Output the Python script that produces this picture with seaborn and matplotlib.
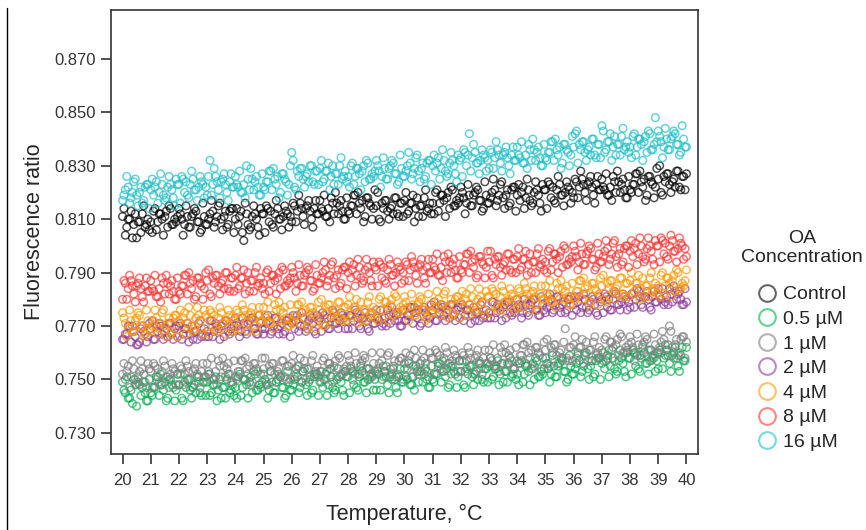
import numpy as np
import pandas as pd
import seaborn as sns
import matplotlib.pyplot as plt
from matplotlib.lines import Line2D
from matplotlib.colors import to_rgba

# Temperature grids: readings every 0.1 °C, second run offset by 0.05 °C
temps = np.round(np.arange(20.0, 40.05, 0.1), 1)
temps_b = np.round(np.arange(20.05, 40.0, 0.1), 2)

# Fluorescence ratios, one row per degree
control = [
    0.811, 0.804, 0.810, 0.813, 0.808, 0.803, 0.809, 0.812, 0.807, 0.810,
    0.809, 0.813, 0.806, 0.812, 0.810, 0.811, 0.807, 0.814, 0.808, 0.809,
    0.814, 0.810, 0.808, 0.811, 0.807, 0.812, 0.813, 0.809, 0.806, 0.811,
    0.808, 0.812, 0.813, 0.809, 0.815, 0.810, 0.811, 0.807, 0.813, 0.814,
    0.810, 0.808, 0.813, 0.802, 0.812, 0.806, 0.811, 0.812, 0.807, 0.814,
    0.812, 0.815, 0.809, 0.808, 0.812, 0.814, 0.810, 0.811, 0.813, 0.807,
    0.809, 0.815, 0.813, 0.816, 0.811, 0.814, 0.817, 0.810, 0.814, 0.812,
    0.817, 0.813, 0.811, 0.814, 0.818, 0.812, 0.816, 0.815, 0.813, 0.810,
    0.813, 0.815, 0.819, 0.812, 0.816, 0.817, 0.811, 0.818, 0.815, 0.814,
    0.815, 0.810, 0.816, 0.817, 0.813, 0.814, 0.812, 0.818, 0.811, 0.816,
    0.817, 0.812, 0.816, 0.819, 0.814, 0.811, 0.815, 0.818, 0.813, 0.816,
    0.816, 0.820, 0.813, 0.819, 0.817, 0.818, 0.814, 0.821, 0.815, 0.816,
    0.822, 0.818, 0.816, 0.819, 0.815, 0.820, 0.821, 0.817, 0.814, 0.819,
    0.816, 0.820, 0.821, 0.817, 0.823, 0.818, 0.819, 0.815, 0.821, 0.822,
    0.819, 0.817, 0.822, 0.818, 0.821, 0.815, 0.820, 0.821, 0.816, 0.823,
    0.821, 0.824, 0.818, 0.817, 0.821, 0.823, 0.819, 0.820, 0.822, 0.816,
    0.818, 0.824, 0.822, 0.825, 0.820, 0.823, 0.826, 0.819, 0.823, 0.821,
    0.825, 0.821, 0.819, 0.822, 0.826, 0.820, 0.824, 0.823, 0.821, 0.818,
    0.821, 0.823, 0.827, 0.820, 0.824, 0.825, 0.819, 0.826, 0.823, 0.822,
    0.825, 0.820, 0.826, 0.827, 0.823, 0.824, 0.822, 0.828, 0.821, 0.826,
    0.827,
]
control_b = [
    0.814, 0.807, 0.810, 0.803, 0.812, 0.809, 0.805, 0.815, 0.808, 0.806,
    0.805, 0.814, 0.809, 0.812, 0.804, 0.813, 0.815, 0.808, 0.810, 0.811,
    0.812, 0.804, 0.815, 0.807, 0.811, 0.814, 0.809, 0.805, 0.816, 0.808,
    0.810, 0.817, 0.807, 0.811, 0.816, 0.806, 0.813, 0.808, 0.814, 0.805,
    0.814, 0.811, 0.805, 0.816, 0.808, 0.807, 0.815, 0.810, 0.804, 0.812,
    0.805, 0.814, 0.813, 0.807, 0.817, 0.810, 0.806, 0.815, 0.812, 0.811,
    0.816, 0.809, 0.819, 0.814, 0.808, 0.815, 0.813, 0.807, 0.817, 0.812,
    0.814, 0.819, 0.811, 0.809, 0.816, 0.820, 0.812, 0.817, 0.810, 0.818,
    0.812, 0.815, 0.819, 0.820, 0.814, 0.809, 0.818, 0.816, 0.810, 0.821,
    0.820, 0.809, 0.814, 0.817, 0.810, 0.815, 0.818, 0.812, 0.816, 0.811,
    0.820, 0.813, 0.816, 0.809, 0.818, 0.815, 0.811, 0.821, 0.814, 0.812,
    0.812, 0.821, 0.816, 0.819, 0.811, 0.820, 0.822, 0.815, 0.817, 0.818,
    0.820, 0.812, 0.823, 0.815, 0.819, 0.822, 0.817, 0.813, 0.824, 0.816,
    0.818, 0.825, 0.815, 0.819, 0.824, 0.814, 0.821, 0.816, 0.822, 0.813,
    0.823, 0.820, 0.814, 0.825, 0.817, 0.816, 0.824, 0.819, 0.813, 0.821,
    0.814, 0.823, 0.822, 0.816, 0.826, 0.819, 0.815, 0.824, 0.821, 0.820,
    0.825, 0.818, 0.828, 0.823, 0.817, 0.824, 0.822, 0.816, 0.826, 0.821,
    0.822, 0.827, 0.819, 0.817, 0.824, 0.828, 0.820, 0.825, 0.818, 0.826,
    0.820, 0.823, 0.827, 0.828, 0.822, 0.817, 0.826, 0.824, 0.818, 0.829,
    0.830, 0.819, 0.824, 0.827, 0.820, 0.825, 0.828, 0.822, 0.826, 0.821,
]
c_0_5 = [
    0.749, 0.745, 0.743, 0.746, 0.750, 0.740, 0.748, 0.747, 0.745, 0.742,
    0.745, 0.747, 0.751, 0.744, 0.748, 0.749, 0.743, 0.750, 0.747, 0.746,
    0.748, 0.743, 0.749, 0.750, 0.746, 0.747, 0.745, 0.751, 0.744, 0.749,
    0.749, 0.744, 0.748, 0.751, 0.746, 0.743, 0.747, 0.750, 0.745, 0.748,
    0.747, 0.751, 0.744, 0.750, 0.748, 0.749, 0.745, 0.752, 0.746, 0.747,
    0.752, 0.748, 0.746, 0.749, 0.745, 0.750, 0.751, 0.747, 0.744, 0.749,
    0.746, 0.750, 0.751, 0.747, 0.753, 0.748, 0.749, 0.745, 0.751, 0.752,
    0.749, 0.747, 0.752, 0.748, 0.751, 0.745, 0.750, 0.751, 0.746, 0.753,
    0.751, 0.754, 0.748, 0.747, 0.751, 0.753, 0.749, 0.750, 0.752, 0.746,
    0.746, 0.752, 0.750, 0.753, 0.748, 0.751, 0.754, 0.747, 0.751, 0.749,
    0.754, 0.750, 0.748, 0.751, 0.755, 0.749, 0.753, 0.752, 0.750, 0.747,
    0.750, 0.752, 0.756, 0.749, 0.753, 0.754, 0.748, 0.755, 0.752, 0.751,
    0.753, 0.748, 0.754, 0.755, 0.751, 0.752, 0.750, 0.756, 0.749, 0.754,
    0.755, 0.750, 0.754, 0.757, 0.752, 0.749, 0.753, 0.756, 0.751, 0.754,
    0.752, 0.756, 0.749, 0.755, 0.753, 0.754, 0.750, 0.757, 0.751, 0.752,
    0.758, 0.754, 0.752, 0.755, 0.751, 0.756, 0.757, 0.753, 0.750, 0.755,
    0.752, 0.756, 0.757, 0.753, 0.759, 0.754, 0.755, 0.751, 0.757, 0.758,
    0.756, 0.754, 0.759, 0.755, 0.758, 0.752, 0.757, 0.758, 0.753, 0.760,
    0.758, 0.761, 0.755, 0.754, 0.758, 0.760, 0.756, 0.757, 0.759, 0.753,
    0.754, 0.760, 0.758, 0.761, 0.756, 0.759, 0.762, 0.755, 0.759, 0.757,
    0.762,
]
c_0_5_b = [
    0.746, 0.751, 0.743, 0.741, 0.748, 0.751, 0.744, 0.749, 0.742, 0.750,
    0.744, 0.747, 0.751, 0.752, 0.746, 0.742, 0.750, 0.748, 0.742, 0.752,
    0.752, 0.742, 0.747, 0.750, 0.743, 0.748, 0.751, 0.745, 0.749, 0.744,
    0.752, 0.745, 0.748, 0.742, 0.750, 0.747, 0.743, 0.752, 0.746, 0.744,
    0.743, 0.752, 0.747, 0.750, 0.743, 0.751, 0.753, 0.746, 0.748, 0.749,
    0.750, 0.743, 0.753, 0.745, 0.749, 0.752, 0.747, 0.743, 0.753, 0.746,
    0.748, 0.754, 0.745, 0.749, 0.754, 0.744, 0.751, 0.746, 0.752, 0.744,
    0.753, 0.750, 0.744, 0.754, 0.747, 0.746, 0.754, 0.749, 0.744, 0.751,
    0.745, 0.753, 0.752, 0.746, 0.755, 0.749, 0.745, 0.754, 0.751, 0.750,
    0.753, 0.746, 0.755, 0.751, 0.745, 0.752, 0.750, 0.745, 0.754, 0.749,
    0.751, 0.756, 0.748, 0.746, 0.753, 0.756, 0.749, 0.754, 0.747, 0.755,
    0.749, 0.752, 0.756, 0.757, 0.751, 0.747, 0.755, 0.753, 0.747, 0.757,
    0.757, 0.747, 0.752, 0.755, 0.748, 0.753, 0.756, 0.750, 0.754, 0.749,
    0.758, 0.751, 0.754, 0.748, 0.756, 0.753, 0.749, 0.758, 0.752, 0.750,
    0.748, 0.757, 0.752, 0.755, 0.748, 0.756, 0.758, 0.751, 0.753, 0.754,
    0.756, 0.749, 0.759, 0.751, 0.755, 0.758, 0.753, 0.749, 0.759, 0.752,
    0.754, 0.760, 0.751, 0.755, 0.760, 0.750, 0.757, 0.752, 0.758, 0.750,
    0.760, 0.757, 0.751, 0.761, 0.754, 0.753, 0.761, 0.756, 0.751, 0.758,
    0.752, 0.760, 0.759, 0.753, 0.762, 0.756, 0.752, 0.761, 0.758, 0.757,
    0.761, 0.754, 0.763, 0.759, 0.753, 0.760, 0.758, 0.753, 0.762, 0.757,
]
c_1 = [
    0.752, 0.750, 0.755, 0.751, 0.754, 0.748, 0.753, 0.754, 0.749, 0.756,
    0.753, 0.756, 0.750, 0.749, 0.753, 0.755, 0.751, 0.752, 0.754, 0.748,
    0.748, 0.754, 0.752, 0.755, 0.750, 0.753, 0.756, 0.749, 0.753, 0.751,
    0.756, 0.752, 0.750, 0.753, 0.757, 0.751, 0.755, 0.754, 0.752, 0.749,
    0.751, 0.753, 0.757, 0.750, 0.754, 0.755, 0.749, 0.756, 0.753, 0.752,
    0.754, 0.749, 0.755, 0.756, 0.752, 0.753, 0.751, 0.757, 0.750, 0.755,
    0.756, 0.751, 0.755, 0.758, 0.753, 0.750, 0.754, 0.757, 0.752, 0.755,
    0.753, 0.757, 0.750, 0.756, 0.754, 0.755, 0.751, 0.758, 0.752, 0.753,
    0.759, 0.755, 0.753, 0.756, 0.752, 0.757, 0.758, 0.754, 0.751, 0.756,
    0.752, 0.756, 0.757, 0.753, 0.759, 0.754, 0.755, 0.751, 0.757, 0.758,
    0.756, 0.754, 0.759, 0.755, 0.758, 0.752, 0.757, 0.758, 0.753, 0.760,
    0.758, 0.761, 0.755, 0.754, 0.758, 0.760, 0.756, 0.757, 0.759, 0.753,
    0.753, 0.759, 0.757, 0.760, 0.755, 0.758, 0.761, 0.754, 0.758, 0.756,
    0.761, 0.757, 0.755, 0.758, 0.762, 0.756, 0.760, 0.759, 0.757, 0.754,
    0.757, 0.759, 0.763, 0.756, 0.760, 0.761, 0.755, 0.762, 0.759, 0.758,
    0.761, 0.756, 0.762, 0.763, 0.759, 0.760, 0.758, 0.769, 0.757, 0.762,
    0.763, 0.758, 0.762, 0.765, 0.760, 0.757, 0.761, 0.764, 0.759, 0.762,
    0.761, 0.765, 0.758, 0.764, 0.762, 0.763, 0.759, 0.766, 0.760, 0.761,
    0.766, 0.762, 0.760, 0.763, 0.759, 0.764, 0.765, 0.761, 0.758, 0.763,
    0.760, 0.764, 0.765, 0.761, 0.770, 0.762, 0.763, 0.759, 0.765, 0.766,
    0.764,
]
c_1_b = [
    0.756, 0.753, 0.747, 0.757, 0.750, 0.749, 0.757, 0.752, 0.747, 0.754,
    0.747, 0.755, 0.754, 0.748, 0.757, 0.751, 0.747, 0.756, 0.753, 0.752,
    0.755, 0.748, 0.757, 0.753, 0.747, 0.754, 0.752, 0.747, 0.756, 0.751,
    0.753, 0.758, 0.750, 0.748, 0.755, 0.758, 0.751, 0.756, 0.749, 0.757,
    0.750, 0.753, 0.757, 0.758, 0.752, 0.748, 0.756, 0.754, 0.748, 0.758,
    0.758, 0.748, 0.753, 0.756, 0.749, 0.754, 0.757, 0.751, 0.755, 0.750,
    0.759, 0.752, 0.755, 0.749, 0.757, 0.754, 0.750, 0.759, 0.753, 0.751,
    0.749, 0.758, 0.753, 0.756, 0.749, 0.757, 0.759, 0.752, 0.754, 0.755,
    0.757, 0.750, 0.760, 0.752, 0.756, 0.759, 0.754, 0.750, 0.760, 0.753,
    0.754, 0.760, 0.751, 0.755, 0.760, 0.750, 0.757, 0.752, 0.758, 0.750,
    0.760, 0.757, 0.751, 0.761, 0.754, 0.753, 0.761, 0.756, 0.751, 0.758,
    0.752, 0.760, 0.759, 0.753, 0.762, 0.756, 0.752, 0.761, 0.758, 0.757,
    0.760, 0.753, 0.762, 0.758, 0.752, 0.759, 0.757, 0.752, 0.761, 0.756,
    0.758, 0.763, 0.755, 0.753, 0.760, 0.763, 0.756, 0.761, 0.754, 0.762,
    0.756, 0.759, 0.763, 0.764, 0.758, 0.754, 0.762, 0.760, 0.754, 0.764,
    0.765, 0.755, 0.760, 0.763, 0.756, 0.761, 0.764, 0.758, 0.762, 0.757,
    0.766, 0.759, 0.762, 0.756, 0.764, 0.761, 0.757, 0.766, 0.760, 0.758,
    0.757, 0.766, 0.761, 0.764, 0.757, 0.765, 0.767, 0.760, 0.762, 0.763,
    0.764, 0.757, 0.767, 0.759, 0.763, 0.766, 0.761, 0.757, 0.767, 0.760,
    0.762, 0.768, 0.759, 0.763, 0.768, 0.758, 0.765, 0.760, 0.766, 0.758,
]
c_2 = [
    0.765, 0.767, 0.770, 0.764, 0.768, 0.763, 0.764, 0.770, 0.767, 0.766,
    0.769, 0.765, 0.770, 0.771, 0.767, 0.768, 0.766, 0.771, 0.765, 0.770,
    0.770, 0.765, 0.769, 0.771, 0.767, 0.765, 0.768, 0.771, 0.766, 0.769,
    0.768, 0.772, 0.766, 0.771, 0.769, 0.770, 0.766, 0.772, 0.767, 0.768,
    0.773, 0.770, 0.768, 0.771, 0.767, 0.772, 0.773, 0.769, 0.767, 0.771,
    0.767, 0.771, 0.772, 0.768, 0.773, 0.769, 0.770, 0.767, 0.772, 0.773,
    0.771, 0.769, 0.774, 0.770, 0.773, 0.768, 0.772, 0.773, 0.768, 0.774,
    0.773, 0.775, 0.770, 0.769, 0.773, 0.775, 0.771, 0.772, 0.774, 0.769,
    0.769, 0.774, 0.772, 0.775, 0.770, 0.773, 0.775, 0.769, 0.773, 0.771,
    0.776, 0.772, 0.770, 0.773, 0.776, 0.771, 0.775, 0.774, 0.772, 0.770,
    0.772, 0.774, 0.777, 0.771, 0.775, 0.776, 0.771, 0.777, 0.774, 0.773,
    0.776, 0.772, 0.777, 0.778, 0.774, 0.775, 0.773, 0.778, 0.772, 0.777,
    0.777, 0.772, 0.776, 0.778, 0.774, 0.772, 0.775, 0.778, 0.773, 0.776,
    0.775, 0.779, 0.773, 0.778, 0.776, 0.777, 0.773, 0.779, 0.774, 0.775,
    0.780, 0.777, 0.775, 0.778, 0.774, 0.779, 0.780, 0.776, 0.774, 0.778,
    0.775, 0.779, 0.780, 0.776, 0.781, 0.777, 0.778, 0.775, 0.780, 0.781,
    0.778, 0.776, 0.781, 0.777, 0.780, 0.775, 0.779, 0.780, 0.775, 0.781,
    0.780, 0.782, 0.777, 0.776, 0.780, 0.782, 0.778, 0.779, 0.781, 0.776,
    0.777, 0.782, 0.780, 0.783, 0.778, 0.781, 0.783, 0.777, 0.781, 0.779,
    0.784, 0.780, 0.778, 0.781, 0.784, 0.779, 0.783, 0.782, 0.780, 0.778,
    0.779,
]
c_2_b = [
    0.765, 0.767, 0.770, 0.770, 0.766, 0.763, 0.769, 0.768, 0.764, 0.771,
    0.772, 0.765, 0.768, 0.770, 0.765, 0.769, 0.771, 0.767, 0.769, 0.766,
    0.771, 0.767, 0.769, 0.764, 0.770, 0.768, 0.765, 0.772, 0.767, 0.766,
    0.766, 0.772, 0.768, 0.770, 0.765, 0.771, 0.772, 0.768, 0.769, 0.770,
    0.771, 0.766, 0.773, 0.768, 0.771, 0.773, 0.769, 0.767, 0.774, 0.769,
    0.769, 0.774, 0.767, 0.770, 0.773, 0.767, 0.771, 0.768, 0.772, 0.766,
    0.774, 0.772, 0.768, 0.775, 0.770, 0.769, 0.774, 0.771, 0.767, 0.772,
    0.768, 0.774, 0.773, 0.769, 0.776, 0.771, 0.769, 0.775, 0.773, 0.772,
    0.774, 0.769, 0.776, 0.773, 0.769, 0.773, 0.772, 0.768, 0.775, 0.771,
    0.773, 0.776, 0.771, 0.770, 0.774, 0.777, 0.772, 0.775, 0.770, 0.776,
    0.772, 0.774, 0.777, 0.777, 0.773, 0.770, 0.776, 0.775, 0.771, 0.778,
    0.779, 0.772, 0.775, 0.777, 0.772, 0.776, 0.778, 0.774, 0.776, 0.773,
    0.778, 0.774, 0.776, 0.771, 0.777, 0.775, 0.772, 0.779, 0.774, 0.773,
    0.773, 0.779, 0.775, 0.777, 0.772, 0.778, 0.779, 0.775, 0.776, 0.777,
    0.778, 0.773, 0.780, 0.775, 0.778, 0.780, 0.776, 0.774, 0.781, 0.776,
    0.777, 0.782, 0.775, 0.778, 0.781, 0.775, 0.779, 0.776, 0.780, 0.774,
    0.781, 0.779, 0.775, 0.782, 0.777, 0.776, 0.781, 0.778, 0.774, 0.779,
    0.775, 0.781, 0.780, 0.776, 0.783, 0.778, 0.776, 0.782, 0.780, 0.779,
    0.782, 0.777, 0.784, 0.781, 0.777, 0.781, 0.780, 0.776, 0.783, 0.779,
    0.781, 0.784, 0.779, 0.778, 0.782, 0.785, 0.780, 0.783, 0.778, 0.784,
]
c_4 = [
    0.775, 0.771, 0.769, 0.772, 0.768, 0.773, 0.774, 0.770, 0.767, 0.772,
    0.768, 0.772, 0.773, 0.769, 0.775, 0.770, 0.771, 0.767, 0.773, 0.774,
    0.772, 0.770, 0.775, 0.771, 0.774, 0.768, 0.773, 0.774, 0.769, 0.776,
    0.773, 0.776, 0.770, 0.769, 0.773, 0.775, 0.771, 0.772, 0.774, 0.768,
    0.769, 0.775, 0.773, 0.776, 0.771, 0.774, 0.777, 0.770, 0.774, 0.772,
    0.777, 0.773, 0.771, 0.774, 0.778, 0.772, 0.776, 0.775, 0.773, 0.770,
    0.772, 0.774, 0.778, 0.771, 0.775, 0.776, 0.770, 0.777, 0.774, 0.773,
    0.776, 0.771, 0.777, 0.778, 0.774, 0.775, 0.773, 0.779, 0.772, 0.777,
    0.778, 0.773, 0.777, 0.780, 0.775, 0.772, 0.776, 0.779, 0.774, 0.777,
    0.776, 0.780, 0.773, 0.779, 0.777, 0.778, 0.774, 0.781, 0.775, 0.776,
    0.781, 0.777, 0.775, 0.778, 0.774, 0.779, 0.780, 0.776, 0.773, 0.778,
    0.775, 0.779, 0.780, 0.776, 0.782, 0.777, 0.778, 0.774, 0.780, 0.781,
    0.779, 0.777, 0.782, 0.778, 0.781, 0.775, 0.780, 0.781, 0.776, 0.783,
    0.781, 0.784, 0.778, 0.777, 0.781, 0.783, 0.779, 0.780, 0.782, 0.776,
    0.777, 0.783, 0.781, 0.784, 0.779, 0.782, 0.785, 0.778, 0.782, 0.780,
    0.785, 0.781, 0.779, 0.782, 0.786, 0.780, 0.784, 0.783, 0.781, 0.778,
    0.781, 0.783, 0.787, 0.780, 0.784, 0.785, 0.779, 0.786, 0.783, 0.782,
    0.785, 0.780, 0.786, 0.787, 0.783, 0.784, 0.782, 0.788, 0.781, 0.786,
    0.787, 0.782, 0.786, 0.789, 0.784, 0.781, 0.785, 0.788, 0.783, 0.786,
    0.785, 0.789, 0.782, 0.788, 0.786, 0.787, 0.783, 0.790, 0.784, 0.785,
    0.791,
]
c_4_b = [
    0.773, 0.766, 0.776, 0.768, 0.772, 0.775, 0.770, 0.766, 0.776, 0.769,
    0.770, 0.776, 0.767, 0.771, 0.776, 0.766, 0.773, 0.768, 0.774, 0.766,
    0.776, 0.773, 0.767, 0.777, 0.770, 0.769, 0.777, 0.772, 0.767, 0.774,
    0.767, 0.775, 0.774, 0.768, 0.777, 0.771, 0.767, 0.776, 0.773, 0.772,
    0.776, 0.769, 0.778, 0.774, 0.768, 0.775, 0.773, 0.768, 0.777, 0.772,
    0.774, 0.779, 0.771, 0.769, 0.776, 0.779, 0.772, 0.777, 0.770, 0.778,
    0.771, 0.774, 0.778, 0.779, 0.773, 0.769, 0.777, 0.775, 0.769, 0.779,
    0.780, 0.770, 0.775, 0.778, 0.771, 0.776, 0.779, 0.773, 0.777, 0.772,
    0.781, 0.774, 0.777, 0.771, 0.779, 0.776, 0.772, 0.781, 0.775, 0.773,
    0.772, 0.781, 0.776, 0.779, 0.772, 0.780, 0.782, 0.775, 0.777, 0.778,
    0.779, 0.772, 0.782, 0.774, 0.778, 0.781, 0.776, 0.772, 0.782, 0.775,
    0.777, 0.783, 0.774, 0.778, 0.783, 0.773, 0.780, 0.775, 0.781, 0.773,
    0.783, 0.780, 0.774, 0.784, 0.777, 0.776, 0.784, 0.779, 0.774, 0.781,
    0.775, 0.783, 0.782, 0.776, 0.785, 0.779, 0.775, 0.784, 0.781, 0.780,
    0.784, 0.777, 0.786, 0.782, 0.776, 0.783, 0.781, 0.776, 0.785, 0.780,
    0.782, 0.787, 0.779, 0.777, 0.784, 0.787, 0.780, 0.785, 0.778, 0.786,
    0.780, 0.783, 0.787, 0.788, 0.782, 0.778, 0.786, 0.784, 0.778, 0.788,
    0.789, 0.779, 0.784, 0.787, 0.780, 0.785, 0.788, 0.782, 0.786, 0.781,
    0.790, 0.783, 0.786, 0.780, 0.788, 0.785, 0.781, 0.790, 0.784, 0.782,
    0.781, 0.790, 0.785, 0.788, 0.781, 0.789, 0.791, 0.784, 0.786, 0.787,
]
c_8 = [
    0.780, 0.786, 0.784, 0.787, 0.782, 0.785, 0.788, 0.781, 0.785, 0.783,
    0.787, 0.783, 0.781, 0.784, 0.788, 0.782, 0.786, 0.785, 0.783, 0.780,
    0.783, 0.785, 0.789, 0.782, 0.786, 0.787, 0.781, 0.788, 0.785, 0.784,
    0.787, 0.782, 0.788, 0.789, 0.785, 0.786, 0.784, 0.790, 0.783, 0.788,
    0.789, 0.784, 0.788, 0.791, 0.786, 0.783, 0.787, 0.790, 0.785, 0.788,
    0.786, 0.790, 0.783, 0.789, 0.787, 0.788, 0.784, 0.791, 0.785, 0.786,
    0.792, 0.788, 0.786, 0.789, 0.785, 0.790, 0.791, 0.787, 0.784, 0.789,
    0.786, 0.790, 0.791, 0.787, 0.793, 0.788, 0.789, 0.785, 0.791, 0.792,
    0.790, 0.788, 0.793, 0.789, 0.792, 0.786, 0.791, 0.792, 0.787, 0.794,
    0.791, 0.794, 0.788, 0.787, 0.791, 0.793, 0.789, 0.790, 0.792, 0.786,
    0.787, 0.793, 0.791, 0.794, 0.789, 0.792, 0.795, 0.788, 0.792, 0.790,
    0.795, 0.791, 0.789, 0.792, 0.796, 0.790, 0.794, 0.793, 0.791, 0.788,
    0.791, 0.793, 0.797, 0.790, 0.794, 0.795, 0.789, 0.796, 0.793, 0.792,
    0.794, 0.789, 0.795, 0.796, 0.792, 0.793, 0.791, 0.797, 0.790, 0.795,
    0.796, 0.791, 0.795, 0.798, 0.793, 0.790, 0.794, 0.797, 0.792, 0.795,
    0.794, 0.798, 0.791, 0.797, 0.795, 0.796, 0.792, 0.799, 0.793, 0.794,
    0.800, 0.796, 0.794, 0.797, 0.793, 0.798, 0.799, 0.795, 0.792, 0.797,
    0.794, 0.798, 0.799, 0.795, 0.801, 0.796, 0.797, 0.793, 0.799, 0.800,
    0.798, 0.796, 0.801, 0.797, 0.800, 0.794, 0.799, 0.800, 0.795, 0.802,
    0.800, 0.803, 0.797, 0.796, 0.800, 0.802, 0.798, 0.799, 0.801, 0.795,
    0.796,
]
c_8_b = [
    0.787, 0.780, 0.789, 0.785, 0.779, 0.786, 0.784, 0.779, 0.788, 0.783,
    0.784, 0.789, 0.781, 0.779, 0.786, 0.789, 0.782, 0.787, 0.780, 0.788,
    0.782, 0.785, 0.789, 0.790, 0.784, 0.780, 0.788, 0.786, 0.780, 0.790,
    0.791, 0.781, 0.786, 0.789, 0.782, 0.787, 0.790, 0.784, 0.788, 0.783,
    0.792, 0.785, 0.788, 0.782, 0.790, 0.787, 0.783, 0.792, 0.786, 0.784,
    0.782, 0.791, 0.786, 0.789, 0.782, 0.790, 0.792, 0.785, 0.787, 0.788,
    0.790, 0.783, 0.793, 0.785, 0.789, 0.792, 0.787, 0.783, 0.793, 0.786,
    0.788, 0.794, 0.785, 0.789, 0.794, 0.784, 0.791, 0.786, 0.792, 0.784,
    0.794, 0.791, 0.785, 0.795, 0.788, 0.787, 0.795, 0.790, 0.785, 0.792,
    0.785, 0.793, 0.792, 0.786, 0.795, 0.789, 0.785, 0.794, 0.791, 0.790,
    0.794, 0.787, 0.796, 0.792, 0.786, 0.793, 0.791, 0.786, 0.795, 0.790,
    0.792, 0.797, 0.789, 0.787, 0.794, 0.797, 0.790, 0.795, 0.788, 0.796,
    0.790, 0.793, 0.797, 0.798, 0.792, 0.788, 0.796, 0.794, 0.788, 0.798,
    0.798, 0.788, 0.793, 0.796, 0.789, 0.794, 0.797, 0.791, 0.795, 0.790,
    0.799, 0.792, 0.795, 0.789, 0.797, 0.794, 0.790, 0.799, 0.793, 0.791,
    0.790, 0.799, 0.794, 0.797, 0.790, 0.798, 0.800, 0.793, 0.795, 0.796,
    0.798, 0.791, 0.801, 0.793, 0.797, 0.800, 0.795, 0.791, 0.801, 0.794,
    0.796, 0.802, 0.793, 0.797, 0.802, 0.792, 0.799, 0.794, 0.800, 0.792,
    0.802, 0.799, 0.793, 0.803, 0.796, 0.795, 0.803, 0.798, 0.793, 0.800,
    0.794, 0.802, 0.801, 0.795, 0.804, 0.798, 0.794, 0.803, 0.800, 0.799,
]
c_16 = [
    0.817, 0.821, 0.822, 0.818, 0.824, 0.819, 0.820, 0.816, 0.822, 0.823,
    0.821, 0.819, 0.824, 0.820, 0.823, 0.817, 0.822, 0.823, 0.818, 0.825,
    0.823, 0.826, 0.820, 0.819, 0.823, 0.825, 0.821, 0.822, 0.824, 0.818,
    0.819, 0.832, 0.823, 0.826, 0.821, 0.824, 0.827, 0.820, 0.824, 0.822,
    0.826, 0.822, 0.820, 0.823, 0.830, 0.821, 0.825, 0.824, 0.822, 0.819,
    0.822, 0.824, 0.828, 0.821, 0.825, 0.826, 0.820, 0.827, 0.824, 0.823,
    0.835, 0.822, 0.828, 0.829, 0.825, 0.826, 0.824, 0.830, 0.823, 0.828,
    0.829, 0.824, 0.828, 0.831, 0.826, 0.823, 0.827, 0.830, 0.825, 0.828,
    0.826, 0.830, 0.823, 0.829, 0.827, 0.828, 0.824, 0.831, 0.825, 0.826,
    0.832, 0.828, 0.826, 0.829, 0.825, 0.830, 0.831, 0.827, 0.824, 0.829,
    0.826, 0.830, 0.831, 0.827, 0.833, 0.828, 0.829, 0.825, 0.831, 0.832,
    0.830, 0.828, 0.833, 0.829, 0.832, 0.826, 0.831, 0.832, 0.827, 0.834,
    0.833, 0.836, 0.830, 0.842, 0.833, 0.835, 0.831, 0.832, 0.834, 0.828,
    0.829, 0.835, 0.833, 0.836, 0.831, 0.834, 0.837, 0.830, 0.834, 0.832,
    0.837, 0.833, 0.831, 0.834, 0.838, 0.832, 0.836, 0.835, 0.833, 0.830,
    0.833, 0.835, 0.839, 0.832, 0.836, 0.837, 0.831, 0.838, 0.835, 0.834,
    0.837, 0.843, 0.838, 0.839, 0.835, 0.836, 0.834, 0.840, 0.833, 0.838,
    0.845, 0.835, 0.839, 0.842, 0.837, 0.834, 0.838, 0.841, 0.836, 0.839,
    0.837, 0.841, 0.834, 0.840, 0.838, 0.839, 0.835, 0.842, 0.836, 0.848,
    0.843, 0.839, 0.837, 0.840, 0.836, 0.841, 0.842, 0.838, 0.835, 0.840,
    0.837,
]
c_16_b = [
    0.819, 0.826, 0.816, 0.820, 0.825, 0.815, 0.822, 0.817, 0.823, 0.814,
    0.825, 0.822, 0.816, 0.827, 0.819, 0.818, 0.826, 0.821, 0.815, 0.823,
    0.816, 0.825, 0.824, 0.818, 0.828, 0.821, 0.817, 0.826, 0.823, 0.822,
    0.826, 0.819, 0.829, 0.824, 0.818, 0.825, 0.823, 0.817, 0.827, 0.822,
    0.823, 0.828, 0.820, 0.818, 0.825, 0.829, 0.821, 0.826, 0.819, 0.827,
    0.821, 0.824, 0.828, 0.829, 0.823, 0.818, 0.827, 0.825, 0.819, 0.830,
    0.832, 0.821, 0.826, 0.829, 0.822, 0.827, 0.830, 0.824, 0.828, 0.823,
    0.832, 0.825, 0.828, 0.821, 0.830, 0.827, 0.823, 0.833, 0.826, 0.824,
    0.822, 0.831, 0.826, 0.829, 0.821, 0.830, 0.832, 0.825, 0.827, 0.828,
    0.830, 0.822, 0.833, 0.825, 0.829, 0.832, 0.827, 0.823, 0.834, 0.826,
    0.828, 0.835, 0.825, 0.829, 0.834, 0.824, 0.831, 0.826, 0.832, 0.823,
    0.834, 0.831, 0.825, 0.836, 0.828, 0.827, 0.835, 0.830, 0.824, 0.832,
    0.826, 0.835, 0.834, 0.828, 0.838, 0.831, 0.827, 0.836, 0.833, 0.832,
    0.836, 0.829, 0.839, 0.834, 0.828, 0.835, 0.833, 0.827, 0.837, 0.832,
    0.834, 0.839, 0.831, 0.829, 0.836, 0.840, 0.832, 0.837, 0.830, 0.838,
    0.832, 0.835, 0.839, 0.840, 0.834, 0.829, 0.838, 0.836, 0.830, 0.841,
    0.842, 0.831, 0.836, 0.839, 0.832, 0.837, 0.840, 0.834, 0.838, 0.833,
    0.843, 0.836, 0.839, 0.832, 0.841, 0.838, 0.834, 0.844, 0.837, 0.835,
    0.833, 0.842, 0.837, 0.840, 0.832, 0.841, 0.843, 0.836, 0.838, 0.839,
    0.841, 0.833, 0.844, 0.836, 0.840, 0.843, 0.838, 0.834, 0.845, 0.837,
]

series_names = ['Control', '0.5 µM', '1 µM', '2 µM', '4 µM', '8 µM', '16 µM']
series_values = [control, c_0_5, c_1, c_2, c_4, c_8, c_16]
series_values_b = [control_b, c_0_5_b, c_1_b, c_2_b, c_4_b, c_8_b, c_16_b]
series_colors = ['#000000', '#00b050', '#7f7f7f', '#8e3a9a', '#ff9900', '#ff3333', '#1cbfc8']

xtick_values = list(range(20, 41))
ytick_values = [0.730, 0.750, 0.770, 0.790, 0.810, 0.830, 0.850, 0.870]

# long-form table for seaborn
frames = []
for name, vals, vals_b in zip(series_names, series_values, series_values_b):
    frames.append(pd.DataFrame({'Temperature': temps, 'Ratio': vals, 'Concentration': name}))
    frames.append(pd.DataFrame({'Temperature': temps_b, 'Ratio': vals_b, 'Concentration': name}))
df = pd.concat(frames, ignore_index=True)

sns.set_style('ticks')
plt.rcParams['font.family'] = ['Liberation Sans', 'DejaVu Sans']

fig = plt.figure(figsize=(8.66, 5.30), dpi=100)
ax = fig.add_axes([0.128, 0.1434, 0.678, 0.8377])

sns.scatterplot(data=df, x='Temperature', y='Ratio', hue='Concentration',
                hue_order=series_names, palette=dict(zip(series_names, series_colors)),
                s=30, linewidth=1.05, legend=False, ax=ax)

# hollow circles: move the hue colours to the edges
pts = ax.collections[0]
ec = pts.get_facecolors().copy()
ec[:, 3] = 0.7
pts.set_edgecolors(ec)
pts.set_facecolors('none')

ax.set_xlim(19.585, 40.41)
ax.set_ylim(0.7221, 0.8883)
ax.set_xticks(xtick_values, labels=[str(v) for v in xtick_values])
ax.set_yticks(ytick_values, labels=[f'{v:.3f}' for v in ytick_values])
ax.tick_params(direction='out', length=7, width=1.2, labelsize=12,
               color='#333333', labelcolor='#333333')
ax.tick_params(axis='x', pad=7)
for sp in ax.spines.values():
    sp.set_visible(True)
    sp.set_color('#333333')
    sp.set_linewidth(1.2)

ax.set_xlabel('Temperature, °C', fontsize=15.5, labelpad=11)
ax.set_ylabel('Fluorescence ratio', fontsize=15.5, labelpad=7)

# legend: centred two-line title, then the entries
fig.text(802 / 866, 1 - 248 / 530, 'OA\nConcentration', ha='center', va='center',
         multialignment='center', fontsize=14, linespacing=1.1)
handles = [Line2D([], [], ls='none', marker='o', ms=12, mfc='none',
                  mec=to_rgba(c, 0.6), mew=1.5) for c in series_colors]
fig.legend(handles, series_names, loc='upper left',
           bbox_to_anchor=(748 / 866, 1 - 276 / 530), frameon=False, fontsize=14,
           handlelength=1.0, handletextpad=0.3, labelspacing=0.36, borderpad=0)

# thin rule at the far left of the image
fig.add_artist(Line2D([0.0081, 0.0081], [0, 1 - 8 / 530], transform=fig.transFigure,
                      color='black', lw=1))

fig.savefig('out.png', dpi=100)
